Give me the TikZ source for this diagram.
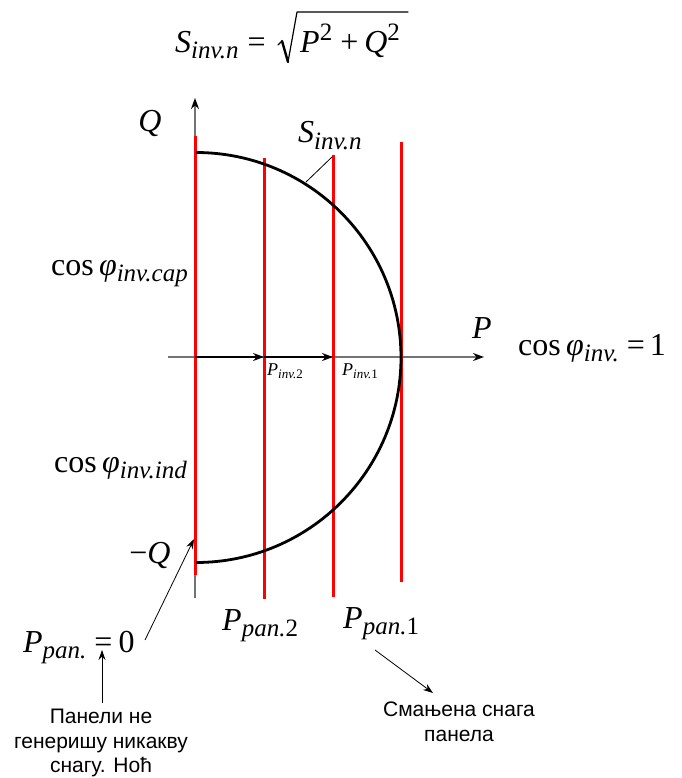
\documentclass[tikz,border=0pt]{standalone}
\usepackage{fontspec}
\setmainfont{Liberation Serif}
\setsansfont{Liberation Sans}
\usetikzlibrary{arrows.meta}
\newcommand{\myit}[1]{\textit{#1}}
\newcommand{\mysub}[1]{\raisebox{-6pt}{\fontsize{25}{25}\selectfont #1}}
\newcommand{\mysup}[1]{\raisebox{12pt}{\fontsize{25}{25}\selectfont #1}}
\newcommand{\mysubs}[1]{\raisebox{-3.5pt}{\fontsize{13}{13}\selectfont #1}}
\begin{document}
\begin{tikzpicture}[x=1pt,y=-1pt,
  lbl/.style={font=\fontsize{32}{38}\selectfont, inner sep=0pt},
  smalllbl/.style={font=\fontsize{18}{21}\selectfont, inner sep=0pt},
  cyr/.style={font=\sffamily\fontsize{21}{24.5}\selectfont, align=center, inner sep=0pt},
  axis/.style={draw=black!55, line width=1.4pt, -{Stealth[length=11pt,width=8pt,color=black]}},
  redline/.style={draw=red, line width=3pt},
  circ/.style={draw=black, line width=2.8pt},
  parrow/.style={draw=black, line width=1.6pt, -{Stealth[length=11pt,width=8pt]}},
  leader/.style={draw=black, line width=0.8pt},
  pointer/.style={draw=black, line width=0.8pt, -{Stealth[length=10pt,width=7pt]}},
  radthin/.style={draw=black, line width=1.2pt, line cap=round, line join=round},
  radthick/.style={draw=black, line width=2.4pt, line cap=round}]
\useasboundingbox (0,0) rectangle (681,778);

% axes
\coordinate (qb) at (195,598);
\coordinate (qt) at (195,98);
\coordinate (pl) at (168,357);
\coordinate (pr) at (484,357);
\draw[axis] (qb) -- (qt);
\draw[axis] (pl) -- (pr);

% red lines
\coordinate (r1t) at (195,136); \coordinate (r1b) at (195,575);
\coordinate (r2t) at (264,158); \coordinate (r2b) at (264,599);
\coordinate (r3t) at (333,155); \coordinate (r3b) at (333,597);
\coordinate (r4t) at (401,142); \coordinate (r4b) at (401,582);
\draw[redline] (r1t) -- (r1b);
\draw[redline] (r2t) -- (r2b);
\draw[redline] (r3t) -- (r3b);
\draw[redline] (r4t) -- (r4b);

% semicircle
\coordinate (ctop) at (196,152.5);
\draw[circ] (ctop) arc[start angle=-90, end angle=90, radius=205];

% P arrows
\coordinate (o) at (195,357);
\coordinate (p2) at (264,357);
\coordinate (p1) at (333,357);
\draw[parrow] (o) -- (p2);
\draw[parrow] (p2) -- (p1);

% formula
\node[lbl, anchor=base west] (formL) at (175,53)
  {\myit{S}\mysub{\myit{inv.n}}\hspace{9pt}=};
\node[lbl, anchor=base west] (formR) at (300,53)
  {\myit{P}\mysup{2}\hspace{8pt}+\hspace{6pt}\myit{Q}\mysup{2}};
\coordinate (rad1) at (278,45);
\coordinate (rad2) at (282,41);
\coordinate (rad3) at (288,62);
\coordinate (rad4) at (297,12);
\coordinate (rad5) at (408,12);
\draw[radthin] (rad1) -- (rad2);
\draw[radthick] (rad2) -- (rad3);
\draw[radthin] (rad3) -- (rad4) -- (rad5);

% axis labels
\node[lbl, anchor=base] (Qlbl) at (150,132) {\myit{Q}};
\node[lbl, anchor=base] (Plbl) at (482,338) {\myit{P}};
\node[lbl, anchor=base] (mQ) at (150,563) {−\myit{Q}};

% S label with leader
\node[lbl, anchor=base west] (Slbl) at (298,143) {\myit{S}\mysub{\myit{inv.n}}};
\coordinate (sl1) at (332,157);
\coordinate (sl2) at (306,182);
\draw[leader] (sl1) -- (sl2);

% small P labels
\node[smalllbl, anchor=base west] (Pinv2) at (267,375) {\myit{P}\mysubs{\myit{inv.}2}};
\node[smalllbl, anchor=base west] (Pinv1) at (342,375) {\myit{P}\mysubs{\myit{inv.}1}};

% cos labels
\node[lbl, anchor=base east] (coscap) at (188,275) {cos\,\myit{φ}\mysub{\myit{inv.cap}}};
\node[lbl, anchor=base east] (cosind) at (187,472) {cos\,\myit{φ}\mysub{\myit{inv.ind}}};
\node[lbl, anchor=base west] (cosone) at (518,355) {cos\,\myit{φ}\mysub{\myit{inv.}}\hspace{8pt}=\hspace{5pt}1};

% panel power labels
\node[lbl, anchor=base west] (ppan0) at (23,652) {\myit{P}\mysub{\myit{pan.}}\hspace{8pt}=\hspace{6pt}0};
\node[lbl, anchor=base west] (ppan2) at (222,630) {\myit{P}\mysub{\myit{pan.}2}};
\node[lbl, anchor=base west] (ppan1) at (343,628) {\myit{P}\mysub{\myit{pan.}1}};

% pointer from P_pan.=0 to -Q
\coordinate (a0) at (145,640);
\coordinate (a0t) at (194,539);
\draw[pointer] (a0) -- (a0t);

% notes
\node[cyr] (note1) at (101,743) {Панели не\\генеришу никакву\\снагу. Ноћ};
\node[cyr] (note2) at (459,722) {Смањена снага\\панела};
\coordinate (n1s) at (102,703);
\coordinate (n1t) at (102,650);
\draw[pointer] (n1s) -- (n1t);
\coordinate (n2s) at (375,650);
\coordinate (n2t) at (433,693);
\draw[pointer] (n2s) -- (n2t);
\end{tikzpicture}
\end{document}
